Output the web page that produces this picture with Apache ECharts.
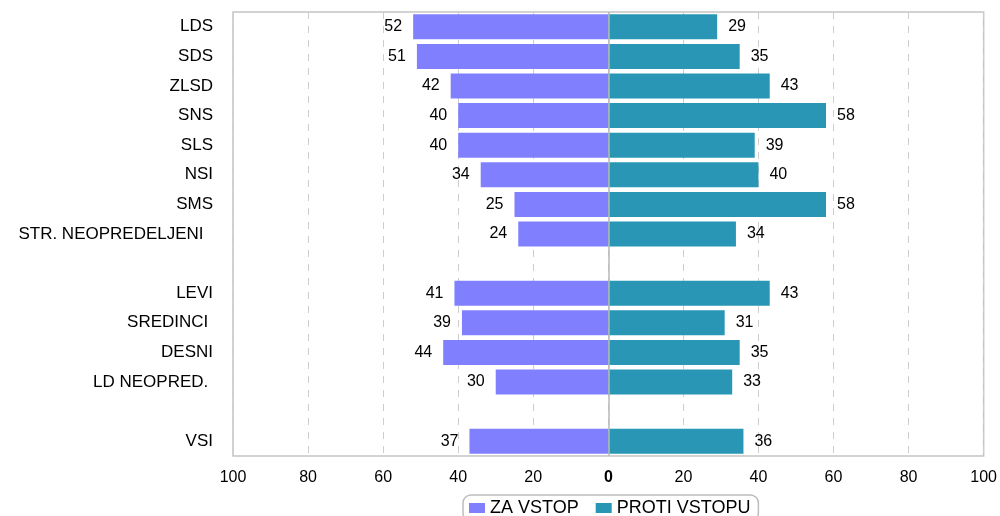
<!DOCTYPE html>
<html>
<head>
<meta charset="utf-8">
<script src="https://cdn.jsdelivr.net/npm/echarts@6/dist/echarts.min.js"></script>
<style>
html,body{margin:0;padding:0;background:#fff;}
#main{width:1000px;height:516px;}
</style>
</head>
<body>
<div id="main"></div>
<script>
const categories = ['LDS','SDS','ZLSD','SNS','SLS','NSI','SMS','STR. NEOPREDELJENI  ','','LEVI','SREDINCI ','DESNI','LD NEOPRED. ','','VSI'];
const zaVstop = [52,51,42,40,40,34,25,24,null,41,39,44,30,null,37];
const protiVstopu = [29,35,43,58,39,40,58,34,null,43,31,35,33,null,36];
const xTicks = [-100,-80,-60,-40,-20,0,20,40,60,80,100];
const seriesNames = ['ZA VSTOP','PROTI VSTOPU'];

const FONT = 'Liberation Sans, Arial, sans-serif';
const chart = echarts.init(document.getElementById('main'));
chart.setOption({
  animation:false,
  textStyle:{fontFamily:FONT},
  grid:{left:233,right:15,top:12,bottom:60,show:true,borderColor:'#c4c4c4',borderWidth:1.5,backgroundColor:'transparent'},
  legend:{
    data:seriesNames,left:463,top:495,
    padding:[4,8,4,6],itemGap:17,itemWidth:16,itemHeight:10,
    borderColor:'#bdbdbd',borderWidth:1.5,borderRadius:8,
    icon:'rect',
    textStyle:{fontSize:18,color:'#000',fontFamily:FONT}
  },
  xAxis:{
    type:'value',min:xTicks[0],max:xTicks[xTicks.length-1],interval:20,
    axisLine:{show:false},axisTick:{show:false},
    splitLine:{show:true,lineStyle:{color:'#cdcdcd',type:[7,7],width:1}},
    axisLabel:{
      fontSize:16,color:'#000',margin:14,fontFamily:FONT,
      formatter:function(v){return v===0?'{b|0}':String(Math.abs(v));},
      rich:{b:{fontWeight:'bold',fontSize:16,color:'#000',fontFamily:FONT}}
    }
  },
  yAxis:{
    type:'category',inverse:true,data:categories,
    axisLine:{show:false},axisTick:{show:false},
    axisLabel:{fontSize:17,color:'#000',margin:20,fontFamily:FONT}
  },
  series:[
    {
      name:seriesNames[0],type:'bar',stack:'t',barWidth:25,
      itemStyle:{color:'#8080ff'},
      data:zaVstop.map(v=>v==null?'-':-v),
      label:{show:true,position:'left',distance:11,fontSize:16,color:'#000',fontFamily:FONT,
        formatter:p=>Math.abs(p.value)}
    },
    {
      name:seriesNames[1],type:'bar',stack:'t',barWidth:25,
      itemStyle:{color:'#2896b4'},
      data:protiVstopu.map(v=>v==null?'-':v),
      label:{show:true,position:'right',distance:11,fontSize:16,color:'#000',fontFamily:FONT},
      markLine:{silent:true,symbol:'none',label:{show:false},
        lineStyle:{color:'#b8b8b8',type:'solid',width:1.5},
        data:[{xAxis:0}]}
    }
  ]
});
</script>
</body>
</html>
